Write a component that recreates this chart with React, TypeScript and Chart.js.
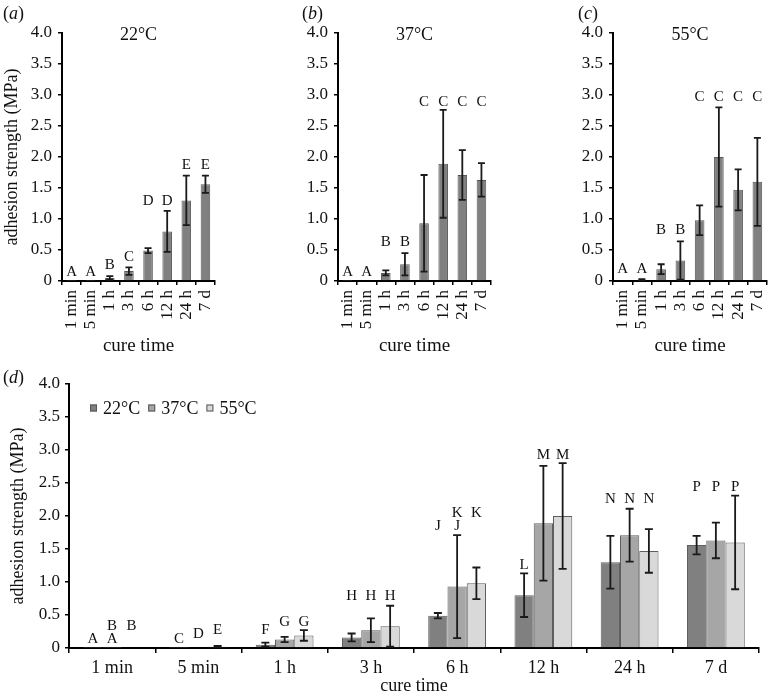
import React, { useEffect, useRef } from 'react';
import { Chart, registerables } from 'chart.js';
Chart.register(...registerables);

const categories = ['1 min', '5 min', '1 h', '3 h', '6 h', '12 h', '24 h', '7 d'];
const temps = ['22°C', '37°C', '55°C'];
const mean22 = [0.003, 0.003, 0.05, 0.16, 0.49, 0.8, 1.3, 1.56];
const sd22 = [0, 0, 0.03, 0.06, 0.04, 0.33, 0.4, 0.14];
const mean37 = [0.005, 0.01, 0.13, 0.27, 0.93, 1.89, 1.71, 1.63];
const sd37 = [0, 0, 0.04, 0.18, 0.78, 0.87, 0.4, 0.27];
const mean55 = [0.01, 0.02, 0.19, 0.33, 0.98, 2.0, 1.47, 1.6];
const sd55 = [0, 0.01, 0.08, 0.31, 0.24, 0.8, 0.33, 0.71];
const yTickLabels = ['0', '0.5', '1.0', '1.5', '2.0', '2.5', '3.0', '3.5', '4.0'];

// significance letters, single-temperature panels (height in MPa)
const lettersA = ['A', 'A', 'B', 'C', 'D', 'D', 'E', 'E'];
const letterHA = [0.15, 0.15, 0.26, 0.39, 1.29, 1.29, 1.87, 1.87];
const lettersB = ['A', 'A', 'B', 'B', 'C', 'C', 'C', 'C'];
const letterHB = [0.15, 0.15, 0.62, 0.62, 2.89, 2.89, 2.89, 2.89];
const lettersC = ['A', 'A', 'B', 'B', 'C', 'C', 'C', 'C'];
const letterHC = [0.2, 0.2, 0.82, 0.82, 2.96, 2.96, 2.96, 2.96];

// significance letters, combined panel
const lettersD22 = ['A', 'C', 'F', 'H', 'J', 'L', 'N', 'P'];
const letterHD22 = [0.14, 0.14, 0.27, 0.78, 1.84, 1.25, 2.26, 2.44];
const lettersD37 = ['A', 'D', 'G', 'H', 'J', 'M', 'N', 'P'];
const letterHD37 = [0.14, 0.21, 0.4, 0.78, 1.84, 2.92, 2.26, 2.44];
const lettersD37b = ['B', '', '', '', 'K', '', '', ''];
const letterHD37b = [0.33, 0, 0, 0, 2.05, 0, 0, 0];
const lettersD55 = ['B', 'E', 'G', 'H', 'K', 'M', 'N', 'P'];
const letterHD55 = [0.33, 0.27, 0.4, 0.78, 2.05, 2.92, 2.26, 2.44];

const SERIF = "'Liberation Serif', 'Times New Roman', serif";
const colors = ['#808080', '#a6a6a6', '#d9d9d9'];

const errorBarPlugin = {
  id: 'errorBars',
  afterDatasetsDraw(chart: any) {
    const ctx = chart.ctx;
    const y = chart.scales.y;
    chart.data.datasets.forEach((ds: any, i: number) => {
      const meta = chart.getDatasetMeta(i);
      if (!ds.errors) return;
      meta.data.forEach((bar: any, j: number) => {
        const sd = ds.errors[j];
        if (!sd) return;
        const v = ds.data[j];
        const top = y.getPixelForValue(v + sd);
        const bot = y.getPixelForValue(Math.max(v - sd, 0));
        const cap = ds.capWidth || 3.5;
        ctx.save();
        ctx.strokeStyle = '#1a1a1a';
        ctx.lineWidth = 1.8;
        ctx.beginPath();
        ctx.moveTo(bar.x, top);
        ctx.lineTo(bar.x, bot);
        ctx.moveTo(bar.x - cap, top);
        ctx.lineTo(bar.x + cap, top);
        ctx.moveTo(bar.x - cap, bot);
        ctx.lineTo(bar.x + cap, bot);
        ctx.stroke();
        ctx.restore();
      });
    });
  },
};

const letterPlugin = {
  id: 'letters',
  afterDatasetsDraw(chart: any) {
    const ctx = chart.ctx;
    const y = chart.scales.y;
    ctx.save();
    ctx.fillStyle = '#111';
    ctx.font = `15px ${SERIF}`;
    ctx.textAlign = 'center';
    ctx.textBaseline = 'middle';
    chart.data.datasets.forEach((ds: any, i: number) => {
      const meta = chart.getDatasetMeta(i);
      const sets = [[ds.letters, ds.letterH], [ds.letters2, ds.letterH2]];
      sets.forEach(([ls, hs]: any) => {
        if (!ls) return;
        meta.data.forEach((bar: any, j: number) => {
          if (!ls[j]) return;
          ctx.fillText(ls[j], bar.x, y.getPixelForValue(hs[j]));
        });
      });
    });
    ctx.restore();
  },
};

const titlePlugin = {
  id: 'panelTitle',
  afterDraw(chart: any, _a: any, opts: any) {
    if (!opts || !opts.text) return;
    const ctx = chart.ctx;
    const ca = chart.chartArea;
    ctx.save();
    ctx.fillStyle = '#111';
    ctx.font = `18px ${SERIF}`;
    ctx.textAlign = 'center';
    ctx.textBaseline = 'middle';
    ctx.fillText(opts.text, (ca.left + ca.right) / 2, ca.top + 2);
    ctx.restore();
  },
};

const legendPlugin = {
  id: 'boxLegend',
  afterDraw(chart: any, _a: any, opts: any) {
    if (!opts || !opts.show) return;
    const ctx = chart.ctx;
    const ca = chart.chartArea;
    ctx.save();
    ctx.font = `18px ${SERIF}`;
    ctx.textBaseline = 'middle';
    ctx.textAlign = 'left';
    let x = ca.left + 21;
    const yc = ca.top + 24;
    chart.data.datasets.forEach((ds: any) => {
      ctx.fillStyle = ds.backgroundColor;
      ctx.strokeStyle = '#555';
      ctx.lineWidth = 1;
      ctx.fillRect(x, yc - 3.5, 7, 7);
      ctx.strokeRect(x + 0.5, yc - 3, 6, 6);
      x += 13;
      ctx.fillStyle = '#111';
      ctx.fillText(ds.label, x, yc + 1);
      x += ctx.measureText(ds.label).width + 8;
    });
    ctx.restore();
  },
};

function axisCommon() {
  return {
    grid: { drawOnChartArea: false, drawTicks: true, tickLength: 4, color: '#000', lineWidth: 1.5 },
    border: { color: '#000', width: 2 },
  };
}

function singleConfig(mean: number[], sd: number[], letters: string[], letterH: number[], title: string, yWidth: number, padRight: number, showYTitle: boolean) {
  return {
    type: 'bar',
    data: {
      labels: categories,
      datasets: [
        {
          data: mean,
          errors: sd,
          letters,
          letterH,
          capWidth: 3.5,
          backgroundColor: '#808080',
          borderColor: '#585858',
          borderWidth: 1,
          barPercentage: 0.5,
          categoryPercentage: 1,
        },
      ],
    },
    options: {
      responsive: false,
      animation: false,
      layout: { padding: { top: 33, right: padRight, left: 0, bottom: 0 } },
      plugins: { legend: { display: false }, tooltip: { enabled: false }, panelTitle: { text: title } },
      scales: {
        x: {
          ...axisCommon(),
          grid: { ...axisCommon().grid, offset: true },
          ticks: { color: '#111', font: { family: SERIF, size: 17 }, minRotation: 90, maxRotation: 90, padding: 5, autoSkip: false },
          title: { display: true, text: 'cure time', color: '#111', font: { family: SERIF, size: 19 }, padding: { top: 0, bottom: 13 } },
          afterFit: (s: any) => {
            s.height = 89;
            s.paddingLeft = 0;
            s.paddingRight = 0;
          },
        },
        y: {
          ...axisCommon(),
          min: 0,
          max: 4,
          ticks: {
            stepSize: 0.5,
            color: '#111',
            font: { family: SERIF, size: 17 },
            padding: 6,
            callback: (v: number) => yTickLabels[Math.round(v / 0.5)],
          },
          title: { display: showYTitle, text: 'adhesion strength (MPa)', color: '#111', font: { family: SERIF, size: 18 }, padding: { top: 1, bottom: 0 } },
          afterFit: (s: any) => {
            s.width = yWidth;
            s.paddingTop = 0;
            s.paddingBottom = 0;
          },
        },
      },
    },
    plugins: [errorBarPlugin, letterPlugin, titlePlugin],
  };
}

function combinedConfig() {
  const means = [mean22, mean37, mean55];
  const sds = [sd22, sd37, sd55];
  const ls = [lettersD22, lettersD37, lettersD55];
  const hs = [letterHD22, letterHD37, letterHD55];
  return {
    type: 'bar',
    data: {
      labels: categories,
      datasets: temps.map((t, i) => ({
        label: t,
        data: means[i],
        errors: sds[i],
        letters: ls[i],
        letterH: hs[i],
        letters2: i === 1 ? lettersD37b : undefined,
        letterH2: i === 1 ? letterHD37b : undefined,
        capWidth: 4,
        backgroundColor: colors[i],
        borderColor: '#5e5e5e',
        borderWidth: 1,
        barPercentage: 1,
        categoryPercentage: 0.67,
      })),
    },
    options: {
      responsive: false,
      animation: false,
      layout: { padding: { top: 24, right: 10, left: 0, bottom: 0 } },
      plugins: { legend: { display: false }, tooltip: { enabled: false }, boxLegend: { show: true } },
      scales: {
        x: {
          ...axisCommon(),
          grid: { ...axisCommon().grid, offset: true, tickLength: 5 },
          ticks: { color: '#111', font: { family: SERIF, size: 18 }, maxRotation: 0, minRotation: 0, padding: 4, autoSkip: false },
          title: { display: true, text: 'cure time', color: '#111', font: { family: SERIF, size: 18 }, padding: { top: 0, bottom: 0 } },
          afterFit: (s: any) => {
            s.height = 49;
            s.paddingLeft = 0;
            s.paddingRight = 0;
          },
        },
        y: {
          ...axisCommon(),
          min: 0,
          max: 4,
          ticks: {
            stepSize: 0.5,
            color: '#111',
            font: { family: SERIF, size: 17 },
            padding: 5,
            callback: (v: number) => yTickLabels[Math.round(v / 0.5)],
          },
          title: { display: true, text: 'adhesion strength (MPa)', color: '#111', font: { family: SERIF, size: 18 }, padding: { top: 7, bottom: 0 } },
          afterFit: (s: any) => {
            s.width = 69;
            s.paddingTop = 0;
            s.paddingBottom = 0;
          },
        },
      },
    },
    plugins: [errorBarPlugin, letterPlugin, legendPlugin],
  };
}

function Panel({ left, top, width, height, make }: any) {
  const ref = useRef<HTMLCanvasElement>(null);
  useEffect(() => {
    const c = new Chart(ref.current as any, make());
    return () => c.destroy();
  }, []);
  return (
    <div style={{ position: 'absolute', left, top, width, height }}>
      <canvas ref={ref} width={width} height={height} style={{ width, height, display: 'block' }} />
    </div>
  );
}

function PanelLabel({ left, top, letter }: any) {
  return (
    <div style={{ position: 'absolute', left, top, fontFamily: SERIF, fontSize: 18, lineHeight: '20px', color: '#111' }}>
      (<i>{letter}</i>)
    </div>
  );
}

export default function App() {
  return (
    <div style={{ position: 'absolute', left: 0, top: 0, width: 769, height: 697, background: '#fff', overflow: 'hidden' }}>
      <Panel left={0} top={0} width={250} height={370} make={() => singleConfig(mean22, sd22, lettersA, letterHA, '22°C', 62, 35, true)} />
      <Panel left={250} top={0} width={250} height={370} make={() => singleConfig(mean37, sd37, lettersB, letterHB, '37°C', 88, 9, false)} />
      <Panel left={500} top={0} width={269} height={370} make={() => singleConfig(mean55, sd55, lettersC, letterHC, '55°C', 113, 2, false)} />
      <Panel left={0} top={360} width={769} height={337} make={combinedConfig} />
      <PanelLabel left={3} top={3} letter="a" />
      <PanelLabel left={302} top={3} letter="b" />
      <PanelLabel left={578} top={3} letter="c" />
      <PanelLabel left={3} top={367} letter="d" />
    </div>
  );
}
